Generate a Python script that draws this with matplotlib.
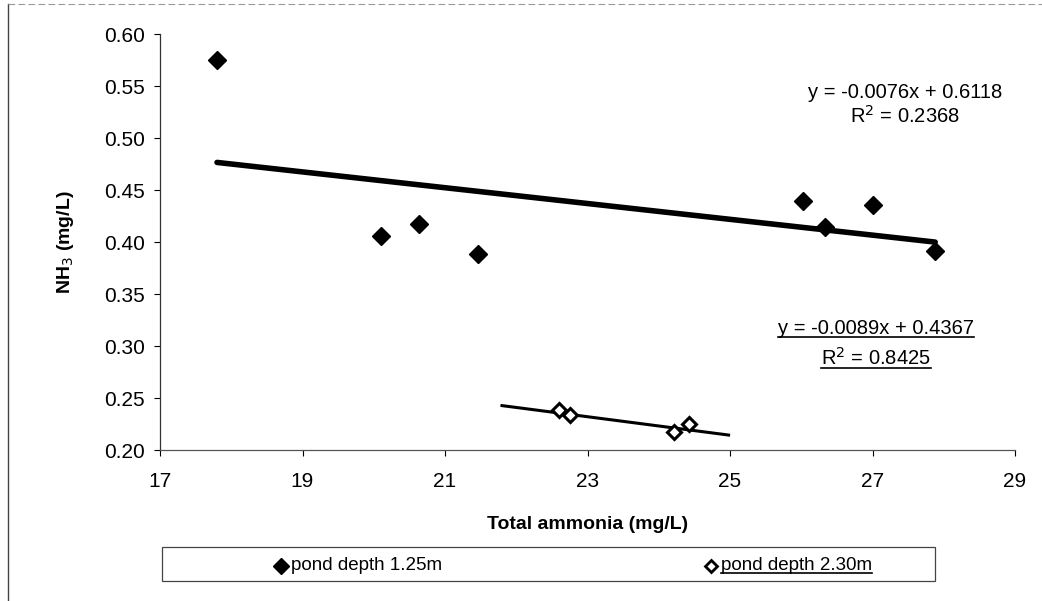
import matplotlib
matplotlib.use('Agg')
from matplotlib import pyplot as plt
from matplotlib.lines import Line2D

plt.rcParams['font.family'] = ['Liberation Sans', 'DejaVu Sans']

# pond depth 1.25m
x_shallow = [17.80, 20.10, 20.63, 21.46, 26.03, 26.34, 27.00, 27.88]
y_shallow = [0.575, 0.406, 0.417, 0.388, 0.439, 0.414, 0.436, 0.391]
fit_shallow = (-0.0076, 0.6118)
range_shallow = [17.80, 27.88]

# pond depth 2.30m
x_deep = [22.60, 22.76, 24.21, 24.42]
y_deep = [0.2385, 0.234, 0.2176, 0.225]
fit_deep = (-0.0089, 0.4367)
range_deep = [21.80, 24.98]

x_ticks = [17, 19, 21, 23, 25, 27, 29]
y_ticks = [0.20, 0.25, 0.30, 0.35, 0.40, 0.45, 0.50, 0.55, 0.60]

fig = plt.figure(figsize=(10.42, 6.01), dpi=100)
ax = fig.add_axes([160/1042, 1 - 450/601, (1015 - 160)/1042, (450 - 34)/601])

# trend lines from the equations shown on the chart
ax.plot(range_shallow, [fit_shallow[0]*x + fit_shallow[1] for x in range_shallow],
        color='black', lw=4, solid_capstyle='round', zorder=2)
ax.plot(range_deep, [fit_deep[0]*x + fit_deep[1] for x in range_deep],
        color='black', lw=2.2, zorder=2)

ax.plot(x_shallow, y_shallow, 'D', color='black', ms=9.5, zorder=3)
ax.plot(x_deep, y_deep, 'D', mfc='white', mec='black', mew=2.2, ms=7.5, zorder=3)

ax.set_xlim(17, 29)
ax.set_ylim(0.20, 0.60)
ax.set_xticks(x_ticks)
ax.set_yticks(y_ticks)
ax.set_yticklabels(['%.2f' % v for v in y_ticks])
ax.tick_params(labelsize=15, length=4, width=0.8, direction='out')
ax.tick_params(axis='x', pad=12)
ax.tick_params(axis='y', pad=7)
for s in ['top', 'right']:
    ax.spines[s].set_visible(False)
ax.spines['left'].set_color('#333333')
ax.spines['bottom'].set_color('#555555')
ax.spines['left'].set_linewidth(0.9)
ax.spines['bottom'].set_linewidth(0.9)

ax.set_xlabel('Total ammonia (mg/L)', fontsize=14, fontweight='bold', labelpad=18)
ax.set_ylabel('NH$_3$ (mg/L)', fontsize=14, fontweight='bold', labelpad=20)

# equations
fig.text(905/1042, 1 - 92/601, 'y = -0.0076x + 0.6118', fontsize=14.5,
         ha='center', va='center')
fig.text(905/1042, 1 - 116/601, 'R$^2$ = 0.2368', fontsize=14.5,
         ha='center', va='center')
t1 = fig.text(876/1042, 1 - 329/601, 'y = -0.0089x + 0.4367', fontsize=14.5,
              ha='center', va='center')
t2 = fig.text(876/1042, 1 - 358/601, 'R$^2$ = 0.8425', fontsize=14.5,
              ha='center', va='center')

# legend box
fig.patches.append(plt.Rectangle((162/1042, 1 - 581/601), (935 - 162)/1042, 34/601,
                                 transform=fig.transFigure, fill=False,
                                 edgecolor='#444444', lw=0.9))
fig.lines.append(Line2D([281/1042], [1 - 566/601], marker='D', color='black', ms=8,
                        transform=fig.transFigure))
fig.text(291/1042, 1 - 566/601, 'pond depth 1.25m', fontsize=13.5, va='center')
fig.lines.append(Line2D([711/1042], [1 - 566/601], marker='D', mfc='white', mec='black',
                        mew=2, ms=6.5, transform=fig.transFigure))
t3 = fig.text(721/1042, 1 - 566/601, 'pond depth 2.30m', fontsize=13.5, va='center')

# figure frame bits
fig.lines.append(Line2D([8/1042, 8/1042], [0, 1 - 4/601], color='#444444', lw=1,
                        transform=fig.transFigure))
fig.lines.append(Line2D([8/1042, 1], [1 - 4/601, 1 - 4/601], color='#999999', lw=0.8,
                        ls=(0, (6, 3)), transform=fig.transFigure))

# underline the second equation and legend entry like in the original
fig.canvas.draw()
r = fig.canvas.get_renderer()
inv = fig.transFigure.inverted()
for t in [t1, t2, t3]:
    bb = t.get_window_extent(r)
    (x0, y0), (x1, y1) = inv.transform([[bb.x0, bb.y0], [bb.x1, bb.y1]])
    fig.lines.append(Line2D([x0, x1], [y0 + 0.002, y0 + 0.002], color='black', lw=1.2,
                            transform=fig.transFigure))

fig.savefig('out.png', dpi=100)
